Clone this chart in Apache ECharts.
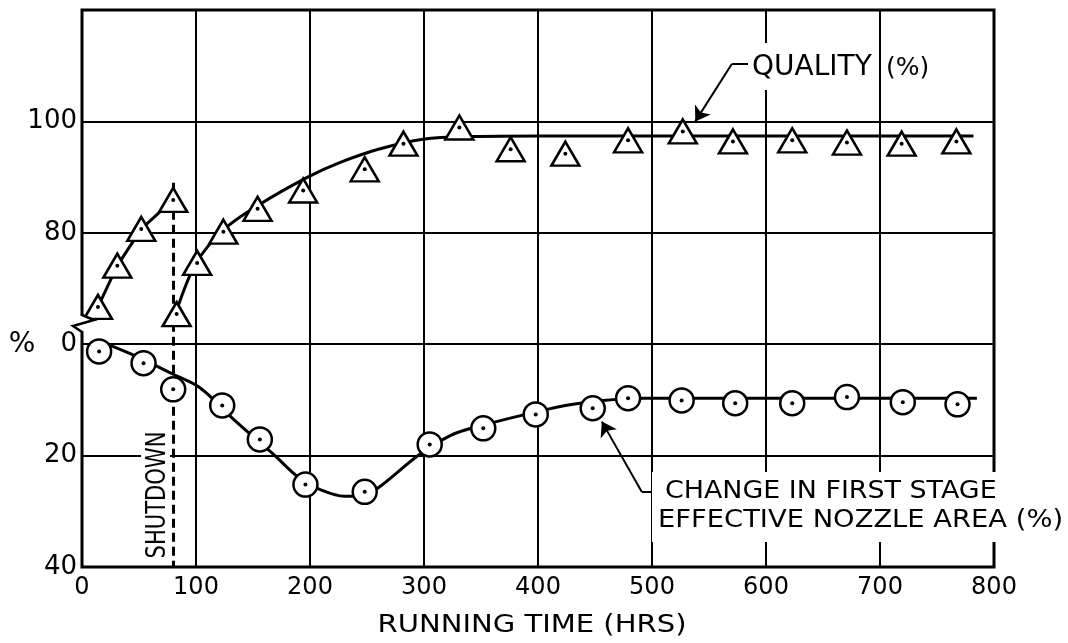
<!DOCTYPE html>
<html>
<head>
<meta charset="utf-8">
<script src="https://cdn.jsdelivr.net/npm/echarts@6/dist/echarts.min.js"></script>
<style>
html, body { margin: 0; background: #fff; }
#main { width: 1068px; height: 643px; }
</style>
</head>
<body>
<div id="main"></div>
<script>
// quality (%) - before the shutdown
var qualityHrsA = [14, 31, 52, 80];
var qualityA = [66.7, 74.1, 80.7, 85.9];
// quality (%) - after the shutdown
var qualityHrsB = [83, 101, 124, 154, 194, 248, 282, 331, 376, 424, 479, 527, 571, 623, 671, 719, 767];
var qualityB = [65.4, 74.6, 80.2, 84.3, 87.6, 91.4, 96.0, 98.9, 95.0, 94.2, 96.6, 98.2, 96.4, 96.6, 96.2, 96.0, 96.4];
// faired curve through the quality points
var qualityCurveHrs = [83, 100, 124, 155, 198, 226, 260, 299, 343, 400, 500, 600, 700, 782];
var qualityCurve = [66, 74.5, 80.5, 85, 90, 92.6, 95, 96.8, 97.3, 97.4, 97.4, 97.4, 97.4, 97.4];

// change in first stage effective nozzle area (%)
var changeHrs = [15, 54, 80, 123, 156, 196, 248, 305, 352, 398, 448, 479, 526, 573, 623, 671, 720, 768];
var change = [1.3, 3.4, 8.1, 11.0, 17.1, 25.2, 26.5, 18.0, 15.1, 12.6, 11.5, 9.7, 10.1, 10.6, 10.6, 9.5, 10.4, 10.8];
var changeCurveHrs = [22, 50, 80, 104, 132, 168, 191, 209, 230, 245, 259, 296, 323, 343, 408, 437, 489, 600, 700, 785];
var changeCurve = [0, 2.4, 5.4, 7.9, 13.3, 19.8, 24.1, 26.1, 27.3, 27.3, 25.9, 19.8, 16.4, 15, 11.7, 10.6, 9.7, 9.7, 9.7, 9.7];

var shutdownHrs = 80;

// one axis for both panels: upper part is quality as is,
// lower part is plotted as 60 - change (0 at 60, 20 at 40, 40 at 20)
var yTicks = [20, 40, 60, 80, 100, 120];
var yTickLabels = ['40', '20', '0', '80', '100', ''];
var xTicks = [0, 100, 200, 300, 400, 500, 600, 700, 800];

function lower(c) { return 60 - c; }
function pairs(xs, ys, f) {
  return xs.map(function (x, i) { return [x, f ? f(ys[i]) : ys[i]]; });
}

var FONT = 'DejaVu Sans';
var chart = echarts.init(document.getElementById('main'));

var qA = pairs(qualityHrsA, qualityA);
var qB = pairs(qualityHrsB, qualityB);
var ch = pairs(changeHrs, change, lower);
var dots = qA.concat(qB).concat(ch);

var openMarker = { color: '#fff', borderColor: '#000', borderWidth: 2.5, opacity: 1 };

chart.setOption({
  animation: false,
  backgroundColor: '#fff',
  grid: {
    left: 82, right: 74, top: 10, bottom: 76,
    show: true, borderColor: '#000', borderWidth: 3
  },
  xAxis: {
    type: 'value', min: 0, max: 800, interval: 100,
    axisLine: { show: false },
    axisTick: { show: false },
    splitLine: { lineStyle: { color: '#000', width: 2 } },
    axisLabel: {
      color: '#000', fontFamily: FONT, fontSize: 24, margin: 9,
      formatter: function (v) { return xTicks.indexOf(v) >= 0 ? String(v) : ''; }
    }
  },
  yAxis: {
    type: 'value', min: 20, max: 120, interval: 20,
    axisLine: { show: false },
    axisTick: { show: false },
    splitLine: { lineStyle: { color: '#000', width: 2 } },
    axisLabel: {
      color: '#000', fontFamily: FONT, fontSize: 26, margin: 5,
      formatter: function (v) { return yTickLabels[yTicks.indexOf(v)] || ''; }
    }
  },
  series: [
    {
      name: 'quality curve', type: 'line', data: pairs(qualityCurveHrs, qualityCurve),
      smooth: 0.35, showSymbol: false, z: 3,
      lineStyle: { color: '#000', width: 3 },
      markLine: {
        silent: true, z: 1, symbol: 'none', label: { show: false },
        lineStyle: { color: '#000', width: 2, type: 'solid' },
        data: [
          // shutdown line
          [{ coord: [shutdownHrs, 89], lineStyle: { type: [9, 5], width: 3 } }, { coord: [shutdownHrs, 20] }],
          // quality leader
          [{ coord: [538, 100], symbol: 'arrow', symbolSize: 14 }, { coord: [570, 110.3], symbol: 'none' }],
          [{ coord: [570, 110.3] }, { coord: [586, 110.3] }],
          // change leader
          [{ coord: [456, lower(13.9)], symbol: 'arrow', symbolSize: 14 }, { coord: [491, lower(26.5)], symbol: 'none' }],
          [{ coord: [491, lower(26.5)] }, { coord: [510, lower(26.5)] }]
        ]
      }
    },
    {
      name: 'change curve', type: 'line', data: pairs(changeCurveHrs, changeCurve, lower),
      smooth: 0.35, showSymbol: false, z: 3,
      lineStyle: { color: '#000', width: 3 }
    },
    {
      name: 'quality before shutdown', type: 'line', data: qA, z: 4,
      symbol: 'triangle', symbolSize: [28, 24],
      lineStyle: { color: '#000', width: 3 },
      itemStyle: openMarker
    },
    {
      name: 'quality', type: 'scatter', data: qB, z: 4,
      symbol: 'triangle', symbolSize: [28, 24],
      itemStyle: openMarker
    },
    {
      name: 'change', type: 'scatter', data: ch, z: 4,
      symbol: 'circle', symbolSize: 24,
      itemStyle: openMarker
    },
    {
      name: 'dots', type: 'scatter', data: dots, z: 5,
      symbol: 'circle', symbolSize: 4,
      itemStyle: { color: '#000', opacity: 1 }
    }
  ],
  graphic: [
    // axis break on the left edge
    { type: 'rect', z: 60, shape: { x: 74, y: 316, width: 16, height: 15 }, style: { fill: '#fff' } },
    { type: 'polyline', z: 61, shape: { points: [[82, 315], [94, 320], [73, 326], [82, 332]] },
      style: { stroke: '#000', lineWidth: 2.5, fill: null } },
    { type: 'text', z: 61, x: 22, y: 345,
      style: { text: '%', font: '28px "DejaVu Sans"', fill: '#000', align: 'center', verticalAlign: 'middle' } },
    // shutdown label
    { type: 'rect', z: 60, shape: { x: 141, y: 428, width: 29, height: 134 }, style: { fill: '#fff' } },
    { type: 'text', z: 61, x: 158, y: 495, rotation: Math.PI / 2, scaleX: 0.78,
      style: { text: 'SHUTDOWN', font: '27px "DejaVu Sans"', fill: '#000', align: 'center', verticalAlign: 'middle' } },
    // quality label
    { type: 'rect', z: 60, shape: { x: 748, y: 43, width: 124, height: 47 }, style: { fill: '#fff' } },
    { type: 'text', z: 61, x: 752, y: 68,
      style: { text: 'QUALITY', font: '28px "DejaVu Sans"', fill: '#000', align: 'left', verticalAlign: 'middle' } },
    { type: 'text', z: 61, x: 886, y: 68,
      style: { text: '(%)', font: '25px "DejaVu Sans"', fill: '#000', align: 'left', verticalAlign: 'middle' } },
    // change label
    { type: 'rect', z: 60, shape: { x: 652, y: 472, width: 350, height: 70 }, style: { fill: '#fff' } },
    { type: 'text', z: 61, x: 665, y: 492, scaleX: 1.12,
      style: { text: 'CHANGE IN FIRST STAGE', font: '24px "DejaVu Sans"', fill: '#000', align: 'left', verticalAlign: 'middle' } },
    { type: 'text', z: 61, x: 658, y: 521, scaleX: 1.14,
      style: { text: 'EFFECTIVE NOZZLE AREA (%)', font: '24px "DejaVu Sans"', fill: '#000', align: 'left', verticalAlign: 'middle' } },
    // x axis title
    { type: 'text', z: 61, x: 532, y: 626, scaleX: 1.21,
      style: { text: 'RUNNING TIME (HRS)', font: '24px "DejaVu Sans"', fill: '#000', align: 'center', verticalAlign: 'middle' } }
  ]
});
</script>
</body>
</html>
